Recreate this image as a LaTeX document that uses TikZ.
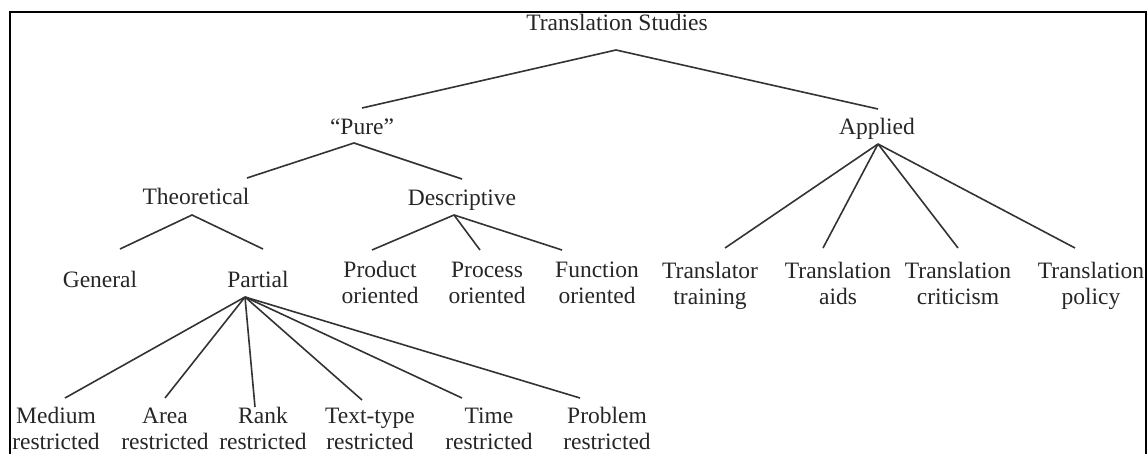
\documentclass[tikz,border=0pt]{standalone}
\usepackage{fontspec}
\setmainfont{Liberation Serif}
\newcommand{\twol}[2]{\begin{tabular}[t]{@{}c@{}}#1\\#2\end{tabular}}
\begin{document}
\begin{tikzpicture}[x=1pt,y=-1pt,
  lbl/.style={anchor=base,inner sep=0pt,text=black!85,font=\fontsize{23.5}{26}\selectfont},
  br/.style={line width=1.6pt,draw=black!80},
  frame/.style={line width=2pt,draw=black}]
\useasboundingbox (0,0) rectangle (1147,454);
\draw[frame] (9.5,480) -- (9.5,12.5) -- (1145.5,12.5) -- (1145.5,480);
% labels
\node[lbl] (ts) at (617,31) {Translation Studies};
\node[lbl] (pure) at (362,135) {``Pure''};
\node[lbl] (appl) at (877,135) {Applied};
\node[lbl] (theo) at (196,205) {Theoretical};
\node[lbl] (desc) at (462,206) {Descriptive};
\node[lbl] (gen) at (100,287) {General};
\node[lbl] (part) at (258,287) {Partial};
\node[lbl] (prod) at (380,277) {\twol{Product}{oriented}};
\node[lbl] (proc) at (487,277) {\twol{Process}{oriented}};
\node[lbl] (func) at (597,277) {\twol{Function}{oriented}};
\node[lbl] (ttr) at (710,278) {\twol{Translator}{training}};
\node[lbl] (tai) at (838,278) {\twol{Translation}{aids}};
\node[lbl] (tcr) at (958,278) {\twol{Translation}{criticism}};
\node[lbl] (tpo) at (1091,278) {\twol{Translation}{policy}};
\node[lbl] (med) at (56,423) {\twol{Medium}{restricted}};
\node[lbl] (area) at (165,423) {\twol{Area}{restricted}};
\node[lbl] (rank) at (263,423) {\twol{Rank}{restricted}};
\node[lbl] (ttyp) at (370,423) {\twol{Text-type}{restricted}};
\node[lbl] (time) at (489,423) {\twol{Time}{restricted}};
\node[lbl] (prob) at (607,423) {\twol{Problem}{restricted}};
% branch points
\coordinate (tsA) at (616,50);
\coordinate (pureT) at (362,108);
\coordinate (applT) at (878,109);
\coordinate (pureA) at (354,143);
\coordinate (theoT) at (247,178);
\coordinate (descT) at (462,179);
\coordinate (applA) at (878,144);
\coordinate (ttrT) at (725,248);
\coordinate (taiT) at (823,248);
\coordinate (tcrT) at (958,248);
\coordinate (tpoT) at (1075,248);
\coordinate (theoA) at (192,215);
\coordinate (genT) at (120,249);
\coordinate (partT) at (263,249);
\coordinate (descA) at (454,215);
\coordinate (prodT) at (372,250);
\coordinate (procT) at (480,250);
\coordinate (funcT) at (562,250);
\coordinate (partA) at (245,297);
\coordinate (medT) at (65,398);
\coordinate (areaT) at (165,398);
\coordinate (rankT) at (255,407);
\coordinate (ttypT) at (362,400);
\coordinate (timeT) at (462,398);
\coordinate (probT) at (580,398);
% connectors
\draw[br] (pureT) -- (tsA) -- (applT);
\draw[br] (theoT) -- (pureA) -- (descT);
\foreach \t in {ttrT,taiT,tcrT,tpoT} \draw[br] (applA) -- (\t);
\draw[br] (genT) -- (theoA) -- (partT);
\foreach \t in {prodT,procT,funcT} \draw[br] (descA) -- (\t);
\foreach \t in {medT,areaT,rankT,ttypT,timeT,probT} \draw[br] (partA) -- (\t);
\end{tikzpicture}
\end{document}
